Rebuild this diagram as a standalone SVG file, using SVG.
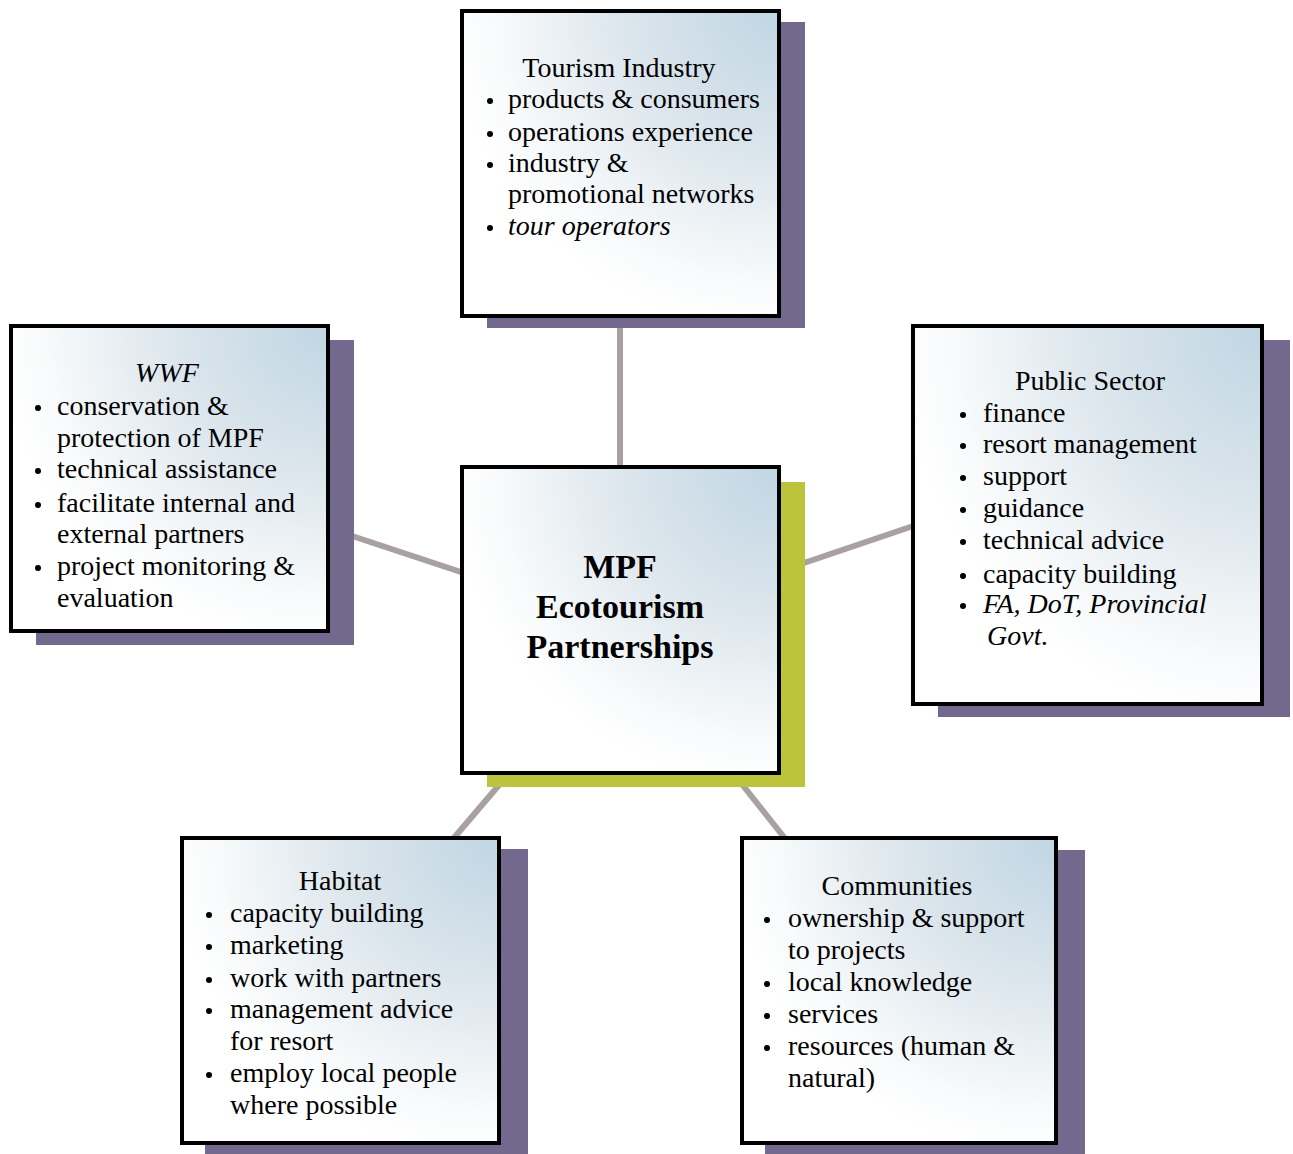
<svg xmlns="http://www.w3.org/2000/svg" width="1293" height="1154" viewBox="0 0 1293 1154">
<defs>
<radialGradient id="fill" cx="1" cy="0" r="1.05" fx="1" fy="0">
<stop offset="0" stop-color="#c0d6e3"/>
<stop offset="0.45" stop-color="#dbe5ec"/>
<stop offset="0.85" stop-color="#f8fafb"/>
<stop offset="1" stop-color="#ffffff"/>
</radialGradient>
<style>
.box{fill:url(#fill);stroke:#000;stroke-width:4}
.shadow{fill:#73698f}
.shadowc{fill:#bcc43e}
.conn{stroke:#a9a1a1;stroke-width:6;fill:none}
text{font-family:"Liberation Serif","Times New Roman",serif;font-size:28px;fill:#000}
.t{text-anchor:middle}
.i{font-style:italic}
.c{font-weight:bold;font-size:34px;text-anchor:middle}
.b{fill:#000}
</style>
</defs>
<rect width="1293" height="1154" fill="#fff"/>
<g id="connectors">
<line class="conn" x1="620" y1="300" x2="620" y2="480"/>
<line class="conn" x1="340" y1="532" x2="470" y2="575"/>
<line class="conn" x1="925" y1="522" x2="795" y2="566"/>
<line class="conn" x1="447" y1="846" x2="505" y2="778"/>
<line class="conn" x1="791" y1="846" x2="737" y2="778"/>
</g>
<g id="tourism">
<rect class="shadow" x="487" y="22" width="318" height="306"/>
<rect class="box" x="462" y="11" width="317" height="305"/>
<text class="t" x="619" y="77">Tourism Industry</text>
<circle class="b" cx="490" cy="101" r="3"/><text x="508" y="108">products &amp; consumers</text>
<circle class="b" cx="490" cy="134" r="3"/><text x="508" y="141">operations experience</text>
<circle class="b" cx="490" cy="165" r="3"/><text x="508" y="172">industry &amp;</text>
<text x="508" y="203">promotional networks</text>
<circle class="b" cx="490" cy="228" r="3"/><text class="i" x="508" y="235">tour operators</text>
</g>
<g id="wwf">
<rect class="shadow" x="36" y="340" width="318" height="305"/>
<rect class="box" x="11" y="326" width="317" height="305"/>
<text class="t i" x="167" y="382">WWF</text>
<circle class="b" cx="38" cy="408" r="3"/><text x="57" y="415">conservation &amp;</text>
<text x="57" y="447">protection of MPF</text>
<circle class="b" cx="38" cy="471" r="3"/><text x="57" y="478">technical assistance</text>
<circle class="b" cx="38" cy="505" r="3"/><text x="57" y="512">facilitate internal and</text>
<text x="57" y="543">external partners</text>
<circle class="b" cx="38" cy="568" r="3"/><text x="57" y="575">project monitoring &amp;</text>
<text x="57" y="607">evaluation</text>
</g>
<g id="public">
<rect class="shadow" x="938" y="340" width="352" height="377"/>
<rect class="box" x="913" y="326" width="349" height="378"/>
<text class="t" x="1090" y="390">Public Sector</text>
<circle class="b" cx="963" cy="415" r="3"/><text x="983" y="422">finance</text>
<circle class="b" cx="963" cy="446" r="3"/><text x="983" y="453">resort management</text>
<circle class="b" cx="963" cy="478" r="3"/><text x="983" y="485">support</text>
<circle class="b" cx="963" cy="510" r="3"/><text x="983" y="517">guidance</text>
<circle class="b" cx="963" cy="542" r="3"/><text x="983" y="549">technical advice</text>
<circle class="b" cx="963" cy="576" r="3"/><text x="983" y="583">capacity building</text>
<circle class="b" cx="963" cy="606" r="3"/><text class="i" x="983" y="613">FA, DoT, Provincial</text>
<text class="i" x="987" y="645">Govt.</text>
</g>
<g id="center">
<rect class="shadowc" x="487" y="482" width="318" height="305"/>
<rect class="box" x="462" y="467" width="317" height="306"/>
<text class="c" x="620" y="578">MPF</text>
<text class="c" x="620" y="618">Ecotourism</text>
<text class="c" x="620" y="658">Partnerships</text>
</g>
<g id="habitat">
<rect class="shadow" x="205" y="849" width="323" height="305"/>
<rect class="box" x="182" y="838" width="317" height="305"/>
<text class="t" x="340" y="890">Habitat</text>
<circle class="b" cx="209" cy="915" r="3"/><text x="230" y="922">capacity building</text>
<circle class="b" cx="209" cy="947" r="3"/><text x="230" y="954">marketing</text>
<circle class="b" cx="209" cy="980" r="3"/><text x="230" y="987">work with partners</text>
<circle class="b" cx="209" cy="1011" r="3"/><text x="230" y="1018">management advice</text>
<text x="230" y="1050">for resort</text>
<circle class="b" cx="209" cy="1075" r="3"/><text x="230" y="1082">employ local people</text>
<text x="230" y="1114">where possible</text>
</g>
<g id="communities">
<rect class="shadow" x="765" y="850" width="320" height="304"/>
<rect class="box" x="742" y="838" width="314" height="305"/>
<text class="t" x="897" y="895">Communities</text>
<circle class="b" cx="767" cy="920" r="3"/><text x="788" y="927">ownership &amp; support</text>
<text x="788" y="959">to projects</text>
<circle class="b" cx="767" cy="984" r="3"/><text x="788" y="991">local knowledge</text>
<circle class="b" cx="767" cy="1016" r="3"/><text x="788" y="1023">services</text>
<circle class="b" cx="767" cy="1048" r="3"/><text x="788" y="1055">resources (human &amp;</text>
<text x="788" y="1087">natural)</text>
</g>
</svg>
